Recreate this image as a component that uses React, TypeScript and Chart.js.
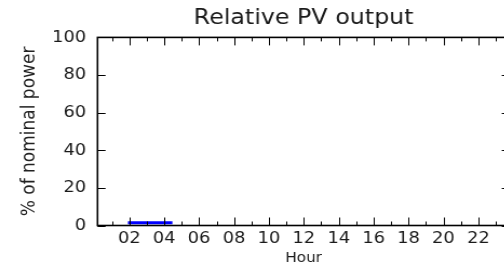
import React, { useEffect, useRef } from "react";
import { Chart, registerables } from "chart.js";

Chart.register(...registerables);

// ---- data ----
const chartTitle = "Relative PV output";
const yAxisTitle = "% of nominal power";
const xAxisTitle = "Hour";
const pvHours = [1.92, 3, 4, 4.47];
const pvValues = [1.5, 1.5, 1.5, 1.5];
const tickHours = [1, 2, 3, 4, 5, 6, 7, 8, 9, 10, 11, 12, 13, 14, 15, 16, 17, 18, 19, 20, 21, 22, 23];
const hourLabels: Record<number, string> = {
  2: "02", 4: "04", 6: "06", 8: "08", 10: "10", 12: "12",
  14: "14", 16: "16", 18: "18", 20: "20", 22: "22",
};
const yTickValues = [0, 20, 40, 60, 80, 100];
const xMin = 0.18;
const xMax = 23.8;

// ---- look ----
const STRETCH = 1.08;
const CANVAS_W = 490;
const CANVAS_H = 266;
const FONT = "'DejaVu Sans', sans-serif";

const framePlugin = {
  id: "frame",
  afterDatasetsDraw(chart: any) {
    const { ctx, chartArea, scales } = chart;
    const { left, right, top, bottom } = chartArea;
    const x = scales.x;
    const y = scales.y;
    ctx.save();
    ctx.strokeStyle = "#000";
    ctx.lineWidth = 1;
    ctx.beginPath();
    for (const h of tickHours) {
      const px = Math.round(x.getPixelForValue(h)) + 0.5;
      const len = hourLabels[h] ? 8 : 4;
      ctx.moveTo(px, bottom);
      ctx.lineTo(px, bottom - len);
      ctx.moveTo(px, top);
      ctx.lineTo(px, top + len);
    }
    for (const v of yTickValues) {
      const py = Math.round(y.getPixelForValue(v)) + 0.5;
      const len = 8 / STRETCH;
      ctx.moveTo(left, py);
      ctx.lineTo(left + len, py);
      ctx.moveTo(right, py);
      ctx.lineTo(right - len, py);
    }
    ctx.stroke();
    ctx.lineWidth = 1.6;
    ctx.strokeRect(left, top, right - left, bottom - top);
    ctx.restore();
  },
};

export default function App() {
  const canvasRef = useRef<HTMLCanvasElement | null>(null);

  useEffect(() => {
    const canvas = canvasRef.current;
    if (!canvas) return;
    const chart = new Chart(canvas, {
      type: "line",
      data: {
        datasets: [
          {
            data: pvHours.map((h, i) => ({ x: h, y: pvValues[i] })),
            borderColor: "#0000ff",
            backgroundColor: "#0000ff",
            borderWidth: 3,
            borderCapStyle: "butt",
            pointRadius: 0,
            tension: 0,
          },
        ],
      },
      options: {
        responsive: false,
        animation: false,
        devicePixelRatio: 1,
        layout: { padding: { top: 0, left: 0, right: 18, bottom: 0 } },
        plugins: {
          legend: { display: false },
          tooltip: { enabled: false },
          title: {
            display: true,
            text: chartTitle,
            fullSize: false,
            color: "#1a1a1a",
            font: { family: FONT, size: 22, weight: "normal" },
            padding: { top: 5, bottom: 6 },
          },
        },
        scales: {
          x: {
            type: "linear",
            min: xMin,
            max: xMax,
            afterBuildTicks: (s: any) => {
              s.ticks = tickHours.map((v) => ({ value: v }));
            },
            afterFit: (s: any) => {
              s.height = 40.5;
            },
            grid: { display: false, drawTicks: false },
            border: { display: false },
            ticks: {
              autoSkip: false,
              maxRotation: 0,
              padding: 3.5,
              color: "#1a1a1a",
              font: { family: FONT, size: 16.5 },
              callback: (v: any) => hourLabels[v as number] ?? "",
            },
            title: {
              display: true,
              text: xAxisTitle,
              color: "#1a1a1a",
              font: { family: FONT, size: 14 },
              padding: { top: 0, bottom: -1 },
            },
          },
          y: {
            type: "linear",
            min: 0,
            max: 100,
            afterBuildTicks: (s: any) => {
              s.ticks = yTickValues.map((v) => ({ value: v }));
            },
            afterFit: (s: any) => {
              s.width = 90.3;
            },
            grid: { display: false, drawTicks: false },
            border: { display: false },
            ticks: {
              padding: 10.5,
              color: "#1a1a1a",
              font: { family: FONT, size: 16.5 },
            },
            title: {
              display: true,
              text: yAxisTitle,
              color: "#222",
              font: { family: FONT, size: 17 },
              padding: { top: 17, bottom: 0 },
            },
          },
        },
      },
      plugins: [framePlugin],
    } as any);
    return () => chart.destroy();
  }, []);

  return (
    <div
      style={{
        position: "fixed",
        left: 0,
        top: 0,
        width: 504,
        height: 266,
        overflow: "hidden",
        background: "#fff",
      }}
    >
      <canvas
        ref={canvasRef}
        width={CANVAS_W}
        height={CANVAS_H}
        style={{
          display: "block",
          width: CANVAS_W + "px",
          height: CANVAS_H + "px",
          transform: `scaleX(${STRETCH})`,
          transformOrigin: "0 0",
        }}
      />
    </div>
  );
}
